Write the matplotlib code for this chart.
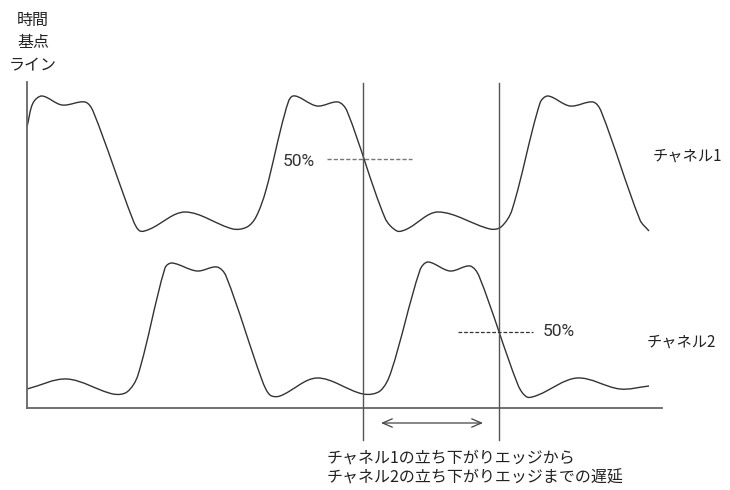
import matplotlib.pyplot as plt
import numpy as np
from matplotlib.path import Path
from matplotlib.patches import PathPatch

plt.rcParams['font.family'] = ['Noto Sans CJK JP', 'DejaVu Sans']

# 波形データ（画像から読み取った点、横=時間、縦=画面上の位置）
ch1_t = [27, 33, 42, 62, 85, 93, 133, 140, 150, 185, 233, 247, 256,
         266, 285, 293, 317, 338, 347, 385, 397, 407, 438, 490,
         501, 512, 540, 548, 570, 593, 601, 640, 649]
ch1_v = [127, 103, 96, 105, 102, 111, 220, 231, 229, 212, 229, 227, 217,
         190, 113, 96, 106, 102, 111, 218, 231, 229, 212, 229,
         227, 210, 103, 96, 106, 102, 111, 220, 231]

ch2_t = [27, 67, 113, 127, 138, 165, 172, 197, 217, 226, 262, 270, 280, 317,
         363, 380, 391, 420, 428, 450, 470, 479, 518, 527, 538, 577, 620, 649]
ch2_v = [389, 379, 394, 392, 375, 268, 263, 271, 267, 276, 380, 395, 396, 378,
         394, 391, 372, 270, 262, 271, 266, 276, 385, 397, 395, 378, 389, 386]

ref_lines = [363, 499]          # 時間基点ライン
ch1_level = 159                 # チャネル1の50%レベル
ch2_level = 332                 # チャネル2の50%レベル


def smooth_path(t, v):
    p = np.column_stack([t, v]).astype(float)
    n = len(p)
    d = np.hypot(*np.diff(p, axis=0).T)
    m = np.zeros_like(p)
    m[0] = (p[1] - p[0]) / d[0]
    m[-1] = (p[-1] - p[-2]) / d[-1]
    for i in range(1, n - 1):
        m[i] = (p[i + 1] - p[i - 1]) / (d[i - 1] + d[i])
    verts = [p[0]]
    codes = [Path.MOVETO]
    for i in range(n - 1):
        verts += [p[i] + m[i] * d[i] / 3, p[i + 1] - m[i + 1] * d[i] / 3, p[i + 1]]
        codes += [Path.CURVE4] * 3
    return Path(verts, codes)


fig = plt.figure(figsize=(7.3, 4.9), dpi=100)
ax = fig.add_axes([0, 0, 1, 1])
ax.set_xlim(0, 730)
ax.set_ylim(490, 0)
ax.axis('off')

for t, v in [(ch1_t, ch1_v), (ch2_t, ch2_v)]:
    ax.add_patch(PathPatch(smooth_path(t, v), fill=False, edgecolor='#333333', lw=1.0))

# 軸と基点ライン
ax.plot([27, 27], [82, 408], color='#666666', lw=1.3)
ax.plot([27, 662], [408, 408], color='#666666', lw=1.3)
for x in ref_lines:
    ax.plot([x, x], [83, 440], color='#555555', lw=1.0)

# 50%レベル
ax.plot([327, 412], [ch1_level, ch1_level], color='#777777', lw=1.0, ls=(0, (3, 1.5)))
ax.plot([458, 533], [ch2_level, ch2_level], color='#333333', lw=0.9, ls=(0, (3, 1.5)))
ax.text(283, ch1_level + 2, '50%', fontsize=12.5, color='#333333', va='center',
        family=['Roboto', 'DejaVu Sans'])
ax.text(543, ch2_level - 1, '50%', fontsize=12.5, color='#333333', va='center',
        family=['Roboto', 'DejaVu Sans'])

# 遅延の矢印
ax.annotate('', xy=(483, 423), xytext=(381, 423),
            arrowprops=dict(arrowstyle='<->,head_length=0.7,head_width=0.3',
                            color='#444444', lw=0.9, shrinkA=0, shrinkB=0))

# ラベル
ax.text(33, 43, '時間\n基点\nライン', fontsize=11.5, ha='center', va='center',
        linespacing=1.42, color='#222222')
ax.text(653, 156, 'チャネル1', fontsize=11, va='center', color='#222222')
ax.text(647, 342, 'チャネル2', fontsize=11, va='center', color='#222222')
ax.text(327, 468, 'チャネル1の立ち下がりエッジから\nチャネル2の立ち下がりエッジまでの遅延',
        fontsize=11.5, va='center', linespacing=1.28, color='#222222')

fig.savefig('out.png', dpi=100)
